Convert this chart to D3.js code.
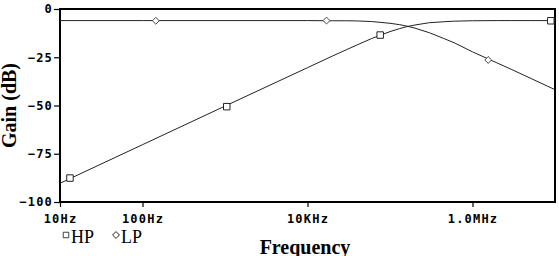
<!DOCTYPE html>
<html>
<head>
<meta charset="utf-8">
<script src="https://cdn.jsdelivr.net/npm/d3@7"></script>
<style>
  body { margin: 0; background: #fff; }
  svg { display: block; }
</style>
</head>
<body>
<div id="chart"></div>
<script>
// frequency points (Hz)
const freqs = [10, 100, 1e3, 1e4, 2e4, 3e4, 4e4, 6e4, 1e5, 1.3e5, 1.65e5, 2e5, 3e5, 4.5e5, 6e5, 1e6, 2e6, 3e6, 5e6, 1e7];
const hpGain = [-90.3, -70.3, -50.3, -30.4, -24.4, -21.0, -18.6, -15.3, -11.7, -10.2, -9.0, -8.3, -7.1, -6.6, -6.3, -6.1, -6.0, -6.0, -6.0, -6.0];
const lpGain = [-6.0, -6.0, -6.0, -6.0, -6.1, -6.1, -6.2, -6.5, -7.4, -8.1, -9.0, -9.9, -12.3, -15.3, -17.5, -22.2, -28.0, -31.4, -35.8, -41.8];

// marker positions
const hpMarkFreq = [13.2, 1050, 7.6e4, 8.9e6];
const hpMarkGain = [-87.6, -50.6, -13.5, -6.1];
const lpMarkFreq = [145, 1.7e4, 1.55e6];
const lpMarkGain = [-6.1, -6.0, -26.4];

const yTicks = [0, -25, -50, -75, -100];
const xTicks = [10, 100, 1e4, 1e6];
const xTickLabels = ['10Hz', '100Hz', '10KHz', '1.0MHz'];

const svgWidth = 559, svgHeight = 256;
const margin = { top: 9, right: 4, bottom: 54, left: 60 };
const width = svgWidth - margin.left - margin.right,
  height = svgHeight - margin.top - margin.bottom;

const svg = d3.select('#chart').append('svg')
  .attr('width', svgWidth)
  .attr('height', svgHeight);

const g = svg.append('g')
  .attr('transform', 'translate(' + margin.left + ',' + margin.top + ')');

const x = d3.scaleLog().domain([10, 1e7]).range([0, width]);
const y = d3.scaleLinear().domain([-100, 0]).range([height, 0]);

const tickFont = "'DejaVu Sans Mono', monospace";

// frame
g.append('rect')
  .attr('width', width)
  .attr('height', height)
  .attr('fill', 'none')
  .attr('stroke', '#000')
  .attr('stroke-width', 1.2)
  .attr('shape-rendering', 'crispEdges');

// y axis
const yAxis = g.append('g')
  .call(d3.axisLeft(y).tickValues(yTicks).tickSize(6).tickPadding(1).tickFormat(d3.format('d')));
yAxis.select('.domain').remove();
yAxis.selectAll('line').attr('stroke', '#000').attr('stroke-width', 1.2);
yAxis.selectAll('text')
  .attr('font-family', tickFont)
  .attr('font-weight', 'bold')
  .attr('font-size', 12)
  .attr('letter-spacing', 1.2)
  .attr('fill', '#000');

// x axis
const xAxis = g.append('g')
  .attr('transform', 'translate(0,' + height + ')')
  .call(d3.axisBottom(x).tickValues(xTicks).tickSize(5).tickPadding(7)
    .tickFormat((d, i) => xTickLabels[i]));
xAxis.select('.domain').remove();
xAxis.selectAll('line').attr('stroke', '#000').attr('stroke-width', 1.2);
xAxis.selectAll('text')
  .attr('font-family', tickFont)
  .attr('font-weight', 'bold')
  .attr('font-size', 12)
  .attr('letter-spacing', 1.2)
  .attr('fill', '#000');

// traces
const line = d3.line()
  .x(d => x(d[0]))
  .y(d => y(d[1]));

g.append('path')
  .datum(freqs.map((f, i) => [f, hpGain[i]]))
  .attr('d', line)
  .attr('fill', 'none')
  .attr('stroke', '#222')
  .attr('stroke-width', 1);

g.append('path')
  .datum(freqs.map((f, i) => [f, lpGain[i]]))
  .attr('d', line)
  .attr('fill', 'none')
  .attr('stroke', '#222')
  .attr('stroke-width', 1);

// markers
const square = d3.symbol().type(d3.symbolSquare).size(42);
const diamond = d3.symbol().type(d3.symbolDiamond2).size(30);

g.selectAll('.hp-mark')
  .data(hpMarkFreq.map((f, i) => [f, hpMarkGain[i]]))
  .enter().append('path')
  .attr('class', 'hp-mark')
  .attr('transform', d => 'translate(' + x(d[0]) + ',' + y(d[1]) + ')')
  .attr('d', square)
  .attr('fill', '#fff')
  .attr('stroke', '#222')
  .attr('stroke-width', 1);

g.selectAll('.lp-mark')
  .data(lpMarkFreq.map((f, i) => [f, lpMarkGain[i]]))
  .enter().append('path')
  .attr('class', 'lp-mark')
  .attr('transform', d => 'translate(' + x(d[0]) + ',' + y(d[1]) + ')')
  .attr('d', diamond)
  .attr('fill', '#fff')
  .attr('stroke', '#444')
  .attr('stroke-width', 1);

// axis titles
svg.append('text')
  .attr('transform', 'translate(16,' + (margin.top + height / 2) + ') rotate(-90)')
  .attr('text-anchor', 'middle')
  .attr('font-family', "'Liberation Serif', serif")
  .attr('font-weight', 'bold')
  .attr('font-size', 20)
  .text('Gain (dB)');

svg.append('text')
  .attr('x', 305)
  .attr('y', 254)
  .attr('text-anchor', 'middle')
  .attr('font-family', "'Liberation Serif', serif")
  .attr('font-weight', 'bold')
  .attr('font-size', 20)
  .text('Frequency');

// legend
const legendItems = [
  { name: 'HP', sym: square, x: 66 },
  { name: 'LP', sym: diamond, x: 116 }
];
const legend = svg.append('g')
  .selectAll('g')
  .data(legendItems)
  .enter().append('g')
  .attr('transform', d => 'translate(' + d.x + ',235)');

legend.append('path')
  .attr('d', d => d.sym())
  .attr('transform', d => d.name === 'HP' ? 'scale(0.85)' : 'scale(1)')
  .attr('fill', '#fff')
  .attr('stroke', '#222');

legend.append('text')
  .attr('x', 5)
  .attr('y', 8)
  .attr('font-family', "'Liberation Serif', serif")
  .attr('font-size', 18)
  .text(d => d.name);
</script>
</body>
</html>
